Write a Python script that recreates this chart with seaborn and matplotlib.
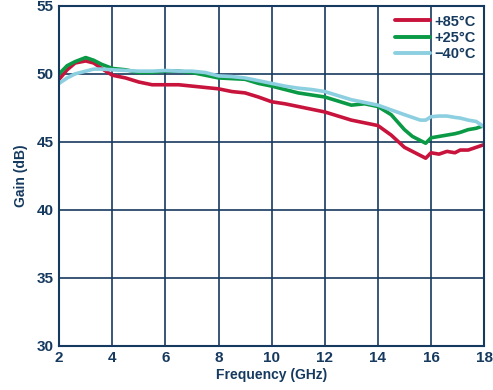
import numpy as np
import pandas as pd
import matplotlib.pyplot as plt
import seaborn as sns

# Frequency points (GHz)
freq = [2.0, 2.3, 2.6, 3.0, 3.3, 3.6, 4.0, 4.5, 5.0, 5.5, 6.0, 6.5, 7.0, 7.5, 8.0,
        8.5, 9.0, 9.5, 10.0, 10.5, 11.0, 11.5, 12.0, 12.5, 13.0, 13.5, 14.0, 14.5,
        15.0, 15.3, 15.6, 15.8, 16.0, 16.3, 16.6, 16.9, 17.1, 17.4, 17.7, 18.0]

# Gain (dB) for each temperature
gain_85 = [49.6, 50.3, 50.8, 50.95, 50.8, 50.4, 49.9, 49.7, 49.4, 49.2, 49.2, 49.2, 49.1, 49.0, 48.9,
           48.7, 48.6, 48.3, 47.95, 47.8, 47.6, 47.4, 47.2, 46.9, 46.6, 46.4, 46.2, 45.5,
           44.6, 44.3, 44.0, 43.8, 44.2, 44.1, 44.3, 44.2, 44.4, 44.4, 44.6, 44.8]
gain_25 = [50.0, 50.6, 50.9, 51.2, 51.0, 50.7, 50.4, 50.3, 50.1, 50.1, 50.2, 50.2, 50.1, 49.9, 49.7,
           49.65, 49.6, 49.3, 49.1, 48.85, 48.6, 48.45, 48.3, 48.0, 47.7, 47.8, 47.6, 47.0,
           45.9, 45.4, 45.1, 44.9, 45.3, 45.4, 45.5, 45.6, 45.7, 45.9, 46.0, 46.2]
gain_m40 = [49.3, 49.7, 50.0, 50.2, 50.35, 50.35, 50.3, 50.25, 50.2, 50.2, 50.25, 50.2, 50.2, 50.1, 49.85,
            49.8, 49.7, 49.5, 49.3, 49.1, 48.95, 48.85, 48.7, 48.4, 48.1, 47.9, 47.7, 47.35,
            47.0, 46.8, 46.6, 46.6, 46.85, 46.9, 46.9, 46.8, 46.75, 46.6, 46.5, 46.1]

labels = ["+85°C", "+25°C", "\u221240°C"]
colors = ["#c8143c", "#0a9a46", "#8ccfe0"]

df = pd.DataFrame({
    "Frequency": freq * 3,
    "Gain": gain_85 + gain_25 + gain_m40,
    "Temp": [labels[0]] * len(freq) + [labels[1]] * len(freq) + [labels[2]] * len(freq),
})

navy = "#163a5f"
sns.set_theme(style="white")
plt.rcParams['font.family'] = ['Liberation Sans', 'DejaVu Sans']

fig = plt.figure(figsize=(4.93, 3.9), dpi=100)
ax = fig.add_axes([0.12, 0.113, 0.862, 0.872])

sns.lineplot(data=df, x="Frequency", y="Gain", hue="Temp", hue_order=labels,
             palette=colors, linewidth=2.6, ax=ax)

ax.set_xlim(2, 18)
ax.set_ylim(30, 55)
ax.set_xticks(np.arange(2, 19, 2))
ax.set_yticks(np.arange(30, 56, 5))
ax.grid(True, color=navy, linewidth=1.2)
ax.set_axisbelow(True)
for s in ax.spines.values():
    s.set_color(navy)
    s.set_linewidth(1.5)
ax.tick_params(axis="both", length=0, pad=4, labelsize=11, labelcolor=navy)
for t in ax.get_xticklabels() + ax.get_yticklabels():
    t.set_fontweight("bold")
ax.set_xlabel("Frequency (GHz)", fontsize=10, fontweight="bold", color=navy, labelpad=2)
ax.set_ylabel("Gain (dB)", fontsize=10, fontweight="bold", color=navy, labelpad=6)

leg = ax.legend(loc="upper right", frameon=False, fontsize=10.5, handlelength=2.4,
                handletextpad=0.3, labelspacing=0.15, borderaxespad=0.2)
for t in leg.get_texts():
    t.set_fontweight("bold")
    t.set_color(navy)
for line in leg.get_lines():
    line.set_linewidth(2.8)

fig.savefig("out.png", dpi=100, facecolor="white")
